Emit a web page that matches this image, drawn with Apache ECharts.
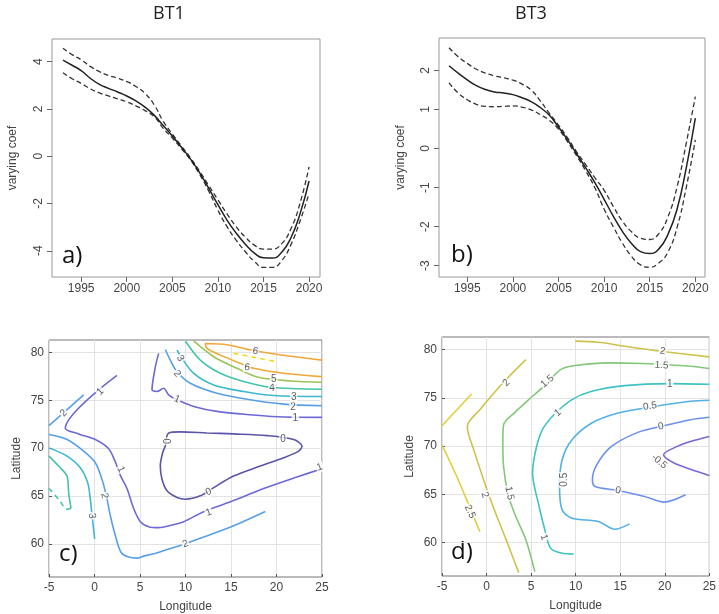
<!DOCTYPE html>
<html>
<head>
<meta charset="utf-8">
<script src="https://cdn.jsdelivr.net/npm/echarts@6/dist/echarts.min.js"></script>
<style>
  html, body { margin: 0; padding: 0; background: #fff; }
  #chart { width: 719px; height: 614px; }
</style>
</head>
<body>
<div id="chart"></div>
<script>
// ---- panels a / b : varying coefficient over time ----
const years = [1993, 1994, 1995, 1996, 1997, 1998, 1999, 2000, 2001, 2002, 2003, 2004, 2005, 2006,
  2007, 2008, 2009, 2010, 2011, 2012, 2013, 2014, 2015, 2016, 2017, 2018, 2019, 2020];
const yearTicks = [1995, 2000, 2005, 2010, 2015, 2020];

const bt1Fit = [4.07, 3.85, 3.62, 3.30, 3.04, 2.87, 2.72, 2.55, 2.34, 2.08, 1.74, 1.30, 0.86, 0.38,
  -0.12, -0.70, -1.36, -2.05, -2.70, -3.25, -3.72, -4.10, -4.30, -4.31, -4.06, -3.46, -2.45, -1.05];
const bt1Upper = [4.57, 4.30, 4.08, 3.80, 3.58, 3.42, 3.30, 3.16, 2.95, 2.66, 2.18, 1.48, 0.94, 0.43,
  -0.07, -0.64, -1.24, -1.84, -2.44, -2.98, -3.42, -3.76, -3.93, -3.93, -3.70, -3.08, -2.00, -0.45];
const bt1Lower = [3.53, 3.28, 3.08, 2.85, 2.68, 2.55, 2.43, 2.30, 2.13, 1.93, 1.68, 1.18, 0.77, 0.32,
  -0.16, -0.77, -1.48, -2.28, -2.98, -3.55, -4.03, -4.45, -4.70, -4.70, -4.42, -3.75, -2.75, -1.58];
const bt1Ticks = [-4, -2, 0, 2, 4];

const bt3Fit = [2.12, 1.93, 1.76, 1.61, 1.51, 1.45, 1.42, 1.38, 1.30, 1.20, 1.05, 0.85, 0.55, 0.22,
  -0.14, -0.50, -0.88, -1.30, -1.73, -2.12, -2.43, -2.64, -2.69, -2.57, -2.20, -1.55, -0.50, 0.78];
const bt3Upper = [2.58, 2.35, 2.18, 2.03, 1.93, 1.86, 1.81, 1.75, 1.65, 1.50, 1.22, 0.90, 0.60, 0.27,
  -0.09, -0.42, -0.75, -1.07, -1.48, -1.86, -2.13, -2.30, -2.33, -2.18, -1.75, -0.98, 0.13, 1.33];
const bt3Lower = [1.68, 1.42, 1.25, 1.13, 1.08, 1.07, 1.08, 1.09, 1.06, 0.99, 0.87, 0.72, 0.50, 0.17,
  -0.19, -0.58, -1.01, -1.55, -2.00, -2.42, -2.76, -2.98, -3.04, -2.93, -2.65, -2.02, -1.00, 0.22];
const bt3Ticks = [-3, -2, -1, 0, 1, 2];

// ---- panels c / d : contour lines [lon, lat] ----
const latTicks = [60, 65, 70, 75, 80];

// c) BT1
const c0 = [[7.78, 70.21], [8.15, 71.59], [9.43, 71.70], [12.36, 71.59], [15.29, 71.49], [18.96, 71.31],
  [21.89, 70.90], [22.80, 70.21], [22.44, 69.69], [20.79, 69.00], [18.22, 68.13], [15.29, 67.09],
  [13.10, 65.88], [11.63, 65.02], [9.98, 64.67], [9.07, 64.84], [7.97, 65.54], [7.42, 66.75],
  [7.23, 68.13], [7.49, 69.52], [7.78, 70.21]];
const c1Main = [[2.47, 77.61], [-3.21, 72.08], [-1.74, 71.49], [0.09, 70.90], [1.56, 69.93], [2.29, 68.55],
  [2.84, 67.16], [3.57, 65.78], [4.30, 63.70], [5.04, 62.32], [5.95, 61.80], [7.05, 61.70], [8.52, 61.97],
  [9.80, 62.32], [12.00, 63.36], [14.93, 64.39], [18.59, 65.78], [22.25, 66.99], [25.0, 67.85]];
const c1Top = [[7.05, 79.90], [6.69, 78.51], [6.32, 76.09], [6.87, 75.92], [7.60, 76.26], [8.15, 75.57],
  [9.07, 75.05], [10.90, 74.36], [13.46, 73.84], [17.12, 73.49], [20.79, 73.25], [25.0, 73.22]];
const c2Main = [[-5.0, 71.42], [-3.02, 70.90], [-1.19, 69.69], [0.09, 68.48], [0.82, 66.75], [1.30, 65.02],
  [1.74, 62.94], [2.29, 60.87], [2.91, 59.13], [3.75, 58.62], [4.67, 58.51], [5.40, 58.72], [6.50, 58.96],
  [7.97, 59.41], [9.43, 59.83], [11.63, 60.59], [15.29, 61.90], [18.77, 63.39]];
const c2Left = [[-5.0, 72.35], [-1.19, 75.57]];
const c2Top = [[7.78, 80.31], [8.33, 79.20], [9.07, 77.99], [10.53, 76.78], [13.46, 75.74], [17.12, 75.05],
  [20.79, 74.60], [25.0, 74.43]];
const c3Left = [[-5.0, 70.03], [-3.02, 69.17], [-1.56, 67.96], [-0.75, 66.40], [-0.46, 64.67],
  [-0.27, 62.94], [0.02, 60.52]];
const c3Top = [[9.07, 80.24], [9.62, 79.38], [10.90, 77.82], [13.10, 76.61], [16.39, 75.92],
  [19.69, 75.50], [25.0, 75.40]];
const c4Left = [[-5.0, 69.17], [-3.94, 68.13], [-3.02, 67.09], [-2.84, 65.36], [-2.58, 63.70]];
const c4LeftDash = [[-2.58, 63.70], [-3.02, 63.63], [-3.94, 64.67], [-5.0, 65.78]];
const c4Top = [[9.98, 81.2], [11.63, 79.20], [13.83, 77.82], [16.39, 76.96], [19.32, 76.37], [25.0, 76.16]];
const c5Top = [[10.90, 81.2], [13.10, 79.55], [15.66, 78.34], [18.01, 77.40], [21.52, 77.02], [25.0, 76.89]];
const c6Top = [[25.0, 79.20], [21.15, 79.65], [17.67, 80.17], [14.56, 80.80], [12.18, 80.93], [12.36, 80.42],
  [13.83, 79.72], [16.03, 78.86], [17.49, 78.34], [20.79, 77.82], [25.0, 77.47]];
const c7Top = [[15.29, 79.90], [17.5, 79.5], [20.05, 79.03]];

const labelsC = [
  [8.08, 70.73, '0', 90], [20.71, 70.97, '0', 0], [12.55, 65.43, '0', 25],
  [0.64, 75.92, '1', 45], [2.91, 67.79, '1', -65], [12.55, 63.29, '1', 20], [24.75, 68.0, '1', 20],
  [9.07, 75.12, '1', -25], [22.07, 73.08, '1', 0],
  [-3.39, 73.67, '2', 45], [1.08, 65.02, '2', -80], [9.98, 60.0, '2', 20], [9.07, 77.75, '2', -50],
  [21.81, 74.29, '2', 0],
  [-0.27, 62.94, '3', -85], [9.43, 79.38, '3', -60], [21.89, 75.29, '3', 0],
  [19.51, 76.26, '4', 0], [19.69, 77.23, '5', 0], [17.67, 80.14, '6', -8], [16.76, 78.44, '6', -8]
];

// d) BT3
const d25a = [[-5.0, 72.11], [-1.68, 75.40]];
const d25b = [[-5.0, 70.14], [-3.34, 66.85], [-2.23, 64.43], [-0.75, 61.14]];
const d2Left = [[3.61, 56.89], [2.20, 60.28], [0.73, 63.74], [-0.20, 66.16], [-1.31, 69.27],
  [-2.16, 72.04], [-0.75, 73.77], [1.83, 76.54], [4.42, 78.96]];
const d2Top = [[9.96, 80.87], [12.55, 80.76], [15.50, 80.35], [19.57, 79.83], [25.0, 79.24]];
const d15 = [[5.42, 56.99], [4.42, 60.28], [3.13, 63.04], [2.39, 65.12], [1.91, 67.89], [1.83, 70.31],
  [1.91, 72.21], [3.31, 73.60], [5.16, 75.16], [6.64, 76.37], [8.30, 77.92], [9.96, 78.34],
  [13.66, 78.62], [17.35, 78.55], [22.89, 78.27], [25.0, 78.03]];
const d1 = [[9.78, 58.82], [8.48, 58.89], [7.19, 59.41], [6.64, 60.97], [5.90, 63.74], [5.16, 67.20],
  [5.53, 69.62], [6.27, 71.70], [7.56, 73.25], [9.59, 74.81], [11.81, 75.67], [15.50, 76.26],
  [20.49, 76.47], [25.0, 76.40]];
const d05 = [[16.06, 61.94], [14.39, 61.38], [12.55, 62.18], [9.59, 62.53], [8.48, 63.39], [8.19, 65.81],
  [8.48, 68.58], [9.59, 70.66], [11.81, 72.39], [14.76, 73.43], [18.46, 74.05], [22.89, 74.64], [25.0, 74.74]];
const d0 = [[22.34, 64.95], [19.94, 64.19], [17.72, 64.78], [14.76, 65.40], [12.18, 65.81], [11.88, 66.51],
  [12.36, 68.06], [14.02, 69.97], [16.98, 71.42], [19.57, 72.04], [22.89, 72.73], [25.0, 72.98]];
const dNeg05 = [[25.0, 71.00], [22.89, 70.48], [21.41, 69.97], [19.86, 69.10], [21.04, 68.24],
  [22.89, 67.61], [25.0, 66.95]];

const labelsD = [
  [-1.86, 63.22, '2.5', -65],
  [2.20, 76.54, '2', 45], [19.75, 79.83, '2', -8], [-0.20, 64.95, '2', -70],
  [6.82, 76.71, '1.5', 40], [19.64, 78.36, '1.5', -3], [2.57, 65.12, '1.5', -78],
  [8.0, 73.43, '1', 40], [20.56, 76.44, '1', 0], [6.45, 60.55, '1', -72],
  [8.67, 66.51, '0.5', 90], [18.35, 74.12, '0.5', 8],
  [14.76, 65.40, '0', -12], [19.57, 72.04, '0', 12],
  [19.38, 68.41, '-0.5', -40]
];

const chart = echarts.init(document.getElementById('chart'), null, { renderer: 'canvas' });

const rFont = 'Liberation Sans, Arial, sans-serif';
const plain = (v) => String(v);

const timeX = (gi, min, max) => ({
  type: 'value', gridIndex: gi, min, max,
  axisLine: { show: false, onZero: false },
  axisTick: { show: true, inside: false, length: 5, customValues: yearTicks, lineStyle: { color: '#666' } },
  axisLabel: { customValues: yearTicks, formatter: plain, color: '#444', fontSize: 12, margin: 6, fontFamily: rFont },
  splitLine: { show: false }
});
const coefY = (gi, min, max, ticks, gap) => ({
  type: 'value', gridIndex: gi, min, max,
  name: 'varying coef', nameLocation: 'middle', nameGap: gap,
  nameTextStyle: { color: '#444', fontSize: 12, fontFamily: rFont },
  axisLine: { show: false, onZero: false },
  axisTick: { show: true, inside: false, length: 5, customValues: ticks, lineStyle: { color: '#666' } },
  axisLabel: { customValues: ticks, formatter: plain, rotate: 90, color: '#444', fontSize: 12, margin: 7, fontFamily: rFont },
  splitLine: { show: false }
});
const lonX = (gi) => ({
  type: 'value', gridIndex: gi, min: -5, max: 25, interval: 5,
  name: 'Longitude', nameLocation: 'middle', nameGap: 24,
  nameTextStyle: { color: '#444', fontSize: 12, fontFamily: rFont },
  axisLine: { show: false, onZero: false },
  axisTick: { show: true, inside: true, length: 3, lineStyle: { color: '#555' } },
  axisLabel: { formatter: plain, color: '#444', fontSize: 12, margin: 5, fontFamily: rFont },
  splitLine: { show: true, lineStyle: { color: '#e3e3e3' } }
});
const latY = (gi) => ({
  type: 'value', gridIndex: gi, min: 56.54, max: 81.3,
  name: 'Latitude', nameLocation: 'middle', nameGap: 26,
  nameTextStyle: { color: '#444', fontSize: 12, fontFamily: rFont },
  axisLine: { show: false, onZero: false },
  axisTick: { show: true, inside: true, length: 3, customValues: latTicks, lineStyle: { color: '#555' } },
  axisLabel: { customValues: latTicks, formatter: plain, color: '#444', fontSize: 12, margin: 5, fontFamily: rFont },
  splitLine: { show: true, lineStyle: { color: '#e3e3e3' } }
});

const pair = (xs, ys) => xs.map((x, i) => [x, ys[i]]);

const bandLine = (gi, ys, dashed) => ({
  type: 'line', xAxisIndex: gi, yAxisIndex: gi, data: pair(years, ys),
  smooth: true, symbol: 'none', silent: true,
  lineStyle: dashed
    ? { color: '#333', width: 1.3, type: [5, 3] }
    : { color: '#222', width: 1.5 }
});

const contour = (gi, pts, color, dashed) => ({
  type: 'line', xAxisIndex: gi, yAxisIndex: gi, data: pts,
  smooth: 0.3, symbol: 'none', silent: true, z: 3,
  lineStyle: { color, width: 1.6, type: dashed ? [5, 4] : 'solid' }
});

const labelSeries = (gi, rows) => ({
  type: 'scatter', xAxisIndex: gi, yAxisIndex: gi, z: 6, silent: true,
  symbolSize: 1, itemStyle: { color: 'rgba(0,0,0,0)' },
  label: {
    show: true, position: 'inside', formatter: (p) => p.name,
    color: '#333', fontSize: 10, fontFamily: rFont,
    backgroundColor: '#fff', padding: [0, 1]
  },
  labelLayout: { hideOverlap: false },
  data: rows.map((r) => ({ value: [r[0], r[1]], name: r[2], label: { rotate: r[3] } }))
});

const gridBox = { show: true, borderColor: '#999', borderWidth: 1, backgroundColor: 'transparent' };

const colC = { 0: '#5a55a8', 1: '#6d69d6', 2: '#58a0e6', 3: '#3bb8d0', 4: '#45c3a8', 5: '#9cc45a', 6: '#efa838', 7: '#f2dc20' };
const colD = { '2.5': '#e4cd3a', 2: '#cfc24a', '1.5': '#84c77a', 1: '#3ec2c6', '0.5': '#54b0e6', 0: '#6e90ec', '-0.5': '#7c66dc' };

chart.setOption({
  animation: false,
  backgroundColor: '#fff',
  grid: [
    Object.assign({ left: 52, top: 39, width: 268, height: 238 }, gridBox),
    Object.assign({ left: 439, top: 38, width: 266, height: 239 }, gridBox),
    Object.assign({ left: 49, top: 340, width: 273, height: 238 }, gridBox, { borderColor: '#777' }),
    Object.assign({ left: 442, top: 337, width: 270, height: 239 }, gridBox, { borderColor: '#777' })
  ],
  xAxis: [timeX(0, 1991.8, 2021.2), timeX(1, 1991.9, 2021.06), lonX(2), lonX(3)],
  yAxis: [coefY(0, -5.11, 4.96, bt1Ticks, 33), coefY(1, -3.29, 2.83, bt3Ticks, 32), latY(2), latY(3)],
  graphic: [
    { type: 'text', left: 153, top: 5, style: { text: 'BT1', fontSize: 18, fill: '#222', fontFamily: 'Open Sans, sans-serif' } },
    { type: 'text', left: 515, top: 5, style: { text: 'BT3', fontSize: 18, fill: '#222', fontFamily: 'Open Sans, sans-serif' } },
    { type: 'text', left: 62, top: 244, style: { text: 'a)', fontSize: 24, fill: '#111', fontFamily: 'Open Sans, sans-serif' } },
    { type: 'text', left: 451, top: 243, style: { text: 'b)', fontSize: 24, fill: '#111', fontFamily: 'Open Sans, sans-serif' } },
    { type: 'text', left: 59, top: 542, style: { text: 'c)', fontSize: 24, fill: '#111', fontFamily: 'Open Sans, sans-serif' } },
    { type: 'text', left: 451, top: 540, style: { text: 'd)', fontSize: 24, fill: '#111', fontFamily: 'Open Sans, sans-serif' } }
  ],
  series: [
    bandLine(0, bt1Upper, true), bandLine(0, bt1Lower, true), bandLine(0, bt1Fit, false),
    bandLine(1, bt3Upper, true), bandLine(1, bt3Lower, true), bandLine(1, bt3Fit, false),

    contour(2, c0, colC[0]),
    contour(2, c1Main, colC[1]), contour(2, c1Top, colC[1]),
    contour(2, c2Main, colC[2]), contour(2, c2Left, colC[2]), contour(2, c2Top, colC[2]),
    contour(2, c3Left, colC[3]), contour(2, c3Top, colC[3]),
    contour(2, c4Left, colC[4]), contour(2, c4LeftDash, colC[4], true), contour(2, c4Top, colC[4]),
    contour(2, c5Top, colC[5]), contour(2, c6Top, colC[6]), contour(2, c7Top, colC[7], true),
    labelSeries(2, labelsC),

    contour(3, d25a, colD['2.5']), contour(3, d25b, colD['2.5']),
    contour(3, d2Left, colD[2]), contour(3, d2Top, colD[2]),
    contour(3, d15, colD['1.5']), contour(3, d1, colD[1]), contour(3, d05, colD['0.5']),
    contour(3, d0, colD[0]), contour(3, dNeg05, colD['-0.5']),
    labelSeries(3, labelsD)
  ]
});
</script>
</body>
</html>
